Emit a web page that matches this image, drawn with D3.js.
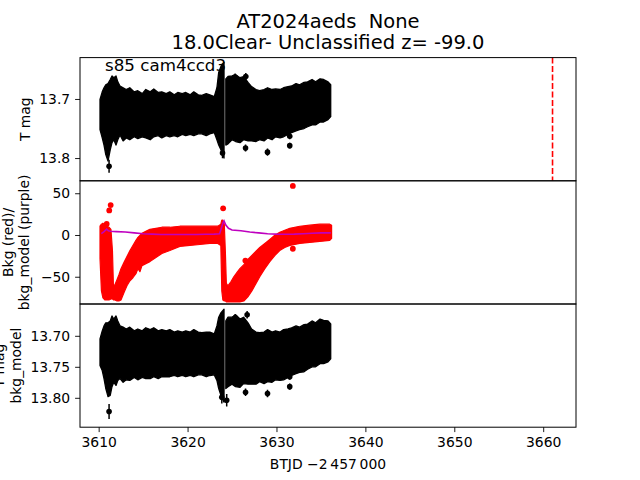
<!DOCTYPE html>
<html><head><meta charset="utf-8">
<script src="https://cdn.jsdelivr.net/npm/d3@7"></script>
<style>
body{margin:0;background:#fff}
svg{display:block}
text{font-family:"DejaVu Sans",sans-serif;fill:#000}
</style>
</head><body>
<svg id="c" width="640" height="480"></svg>
<script>
// ---------- data ----------
const xTicks = [3610, 3620, 3630, 3640, 3650, 3660];
const magTicks = [13.7, 13.8];
const bkgTicks = [50, 0, -50];
const diffTicks = [13.70, 13.75, 13.80];
const peakTime = 3661.05;

// light-curve band (T mag): time, upper envelope (bright), lower envelope (faint); null = data gap
const magTime = [3610.15,3610.4,3610.6,3610.8,3611.05,3611.3,3611.5,3611.7,3611.95,3612.15,3612.4,3612.75,3613.1,3613.5,3614,3614.4,3614.9,3615.3,3615.8,3616.2,3616.7,3617.1,3617.6,3618,3618.5,3618.9,3619.4,3619.8,3620.3,3620.7,3621.2,3621.6,3622.1,3622.5,3623,3623.3,3623.5,3623.75,3624.1,
  3624.2,
  3624.3,3624.55,3625,3625.4,3625.9,3626.3,3626.8,3627.2,3627.7,3628.1,3628.6,3629,3629.5,3629.9,3630.4,3630.8,3631.3,3631.7,3632.2,3632.6,3633.1,3633.5,3634,3634.4,3634.9,3635.3,3635.8,3636.1];
const magTop = [13.701,13.688,13.681,13.676,13.674,13.667,13.661,13.664,13.661,13.671,13.678,13.681,13.684,13.681,13.688,13.686,13.691,13.684,13.688,13.683,13.689,13.688,13.691,13.688,13.693,13.689,13.691,13.689,13.693,13.688,13.693,13.694,13.691,13.693,13.696,13.681,13.655,13.645,13.638,
  null,
  13.666,13.662,13.661,13.659,13.664,13.662,13.672,13.679,13.684,13.686,13.684,13.681,13.684,13.683,13.684,13.681,13.679,13.678,13.674,13.676,13.672,13.671,13.667,13.671,13.666,13.667,13.671,13.676];
const magBottom = [13.752,13.766,13.778,13.794,13.805,13.786,13.774,13.769,13.778,13.769,13.761,13.771,13.766,13.769,13.764,13.767,13.764,13.766,13.769,13.764,13.762,13.766,13.762,13.764,13.762,13.764,13.760,13.762,13.760,13.762,13.759,13.759,13.762,13.759,13.757,13.769,13.778,13.786,13.800,
  null,
  13.778,13.776,13.769,13.772,13.774,13.769,13.771,13.771,13.772,13.769,13.771,13.766,13.769,13.764,13.766,13.764,13.760,13.757,13.754,13.752,13.750,13.747,13.744,13.744,13.739,13.739,13.735,13.730];
// isolated points with error bars (T mag)
const magOutTime = [3611.17,3623.93,3626.52,3628.99,3631.49,3631.49,3625.35,3626.55];
const magOutVal  = [13.814,13.7915,13.783,13.790,13.763,13.779,13.663,13.662];
const magOutErr  = [0.011,0.009,0.006,0.006,0.005,0.005,0.006,0.006];

// T mag - bkg_model band (same times)
const diffTop = [13.705,13.692,13.684,13.679,13.679,13.676,13.668,13.673,13.668,13.676,13.684,13.686,13.689,13.686,13.692,13.689,13.692,13.687,13.690,13.687,13.692,13.690,13.692,13.690,13.694,13.692,13.694,13.692,13.694,13.690,13.694,13.695,13.694,13.694,13.697,13.684,13.670,13.663,13.657,
  null,
  13.676,13.670,13.670,13.666,13.673,13.670,13.679,13.689,13.694,13.695,13.694,13.690,13.694,13.692,13.694,13.690,13.689,13.687,13.684,13.686,13.682,13.681,13.676,13.679,13.673,13.675,13.676,13.681];
const diffBottom = [13.748,13.756,13.769,13.785,13.798,13.796,13.782,13.775,13.780,13.772,13.769,13.775,13.771,13.772,13.767,13.771,13.767,13.769,13.769,13.766,13.769,13.766,13.766,13.766,13.764,13.766,13.764,13.766,13.764,13.766,13.763,13.763,13.766,13.764,13.763,13.772,13.785,13.796,13.807,
  null,
  13.785,13.782,13.778,13.782,13.783,13.777,13.778,13.778,13.778,13.774,13.777,13.774,13.775,13.771,13.772,13.771,13.767,13.764,13.761,13.759,13.758,13.754,13.750,13.750,13.745,13.745,13.742,13.737];
const diffOutTime = [3611.17,3623.85,3624.4,3625.35,3626.7,3626.52,3628.99,3631.49,3631.49];
const diffOutVal  = [13.822,13.799,13.804,13.671,13.666,13.791,13.793,13.766,13.782];
const diffOutErr  = [0.012,0.010,0.010,0.006,0.006,0.006,0.006,0.005,0.005];

// background (red) envelope
const bkgTime = [3610.15,3610.31,3610.48,3610.71,3610.93,3611.16,3611.38,3611.55,3611.66,3611.83,3612.06,3612.28,3612.51,3612.84,3613.18,3613.52,3613.85,3614.19,3614.42,3614.64,3614.87,3615.31,3615.76,3616.44,3617.11,3618.01,3619.13,3620.26,3621.38,3622.51,3623.4,3623.74,3623.85,3623.97,3624.13,3624.25,3624.36,3624.53,3624.87,3625.2,3625.54,3625.88,3626.33,3626.78,3627.23,3627.67,3628.12,3628.69,3629.25,3629.81,3630.37,3630.93,3631.5,3632.62,3633.74,3634.87,3635.99,3636.2];
const bkgTop = [10.5,12.9,14.1,11.7,10.5,9.3,6.8,-18.6,-60.9,-59.7,-53.6,-47.6,-40.3,-33.1,-25.8,-18.6,-12.5,-6.5,-2.8,-0.4,2.0,4.4,6.8,8.0,9.3,9.3,10.5,10.5,10.5,10.5,10.5,12.9,17.7,17.7,12.9,-20,-58,-61,-56,-50,-45.2,-40.3,-35.5,-29.4,-24.6,-19.8,-15.0,-10.1,-5.3,-0.4,3.2,5.6,8.0,10.5,11.7,12.9,12.9,11.7];
const bkgBottom = [-28.2,-66.9,-75.4,-77.8,-77.8,-77.8,-76.6,-76.6,-77.8,-77.8,-79,-79,-77.8,-69.3,-60.8,-54.8,-51.2,-46.4,-40.3,-44,-36.7,-34.3,-31.9,-27.0,-22.2,-18.6,-13.7,-12.5,-11.4,-10.1,-10.1,-12.5,-66.9,-77.8,-79,-79,-80.2,-80.2,-80.2,-80.2,-80.2,-80.2,-79,-74.2,-66.9,-58.5,-50,-40.3,-31.9,-24.6,-18.6,-15.0,-12.5,-10.1,-8.9,-7.7,-6.5,-4.1];
const bkgOutTime = [3610.9,3611.19,3611.35,3624.0,3631.84,3626.5,3631.84];
const bkgOutVal  = [13.3,29.4,35.8,31.9,58.8,-30.7,-16.5];

// background model (purple)
const bkgModelTime = [3610.3,3610.6,3610.9,3611.1,3611.3,3612,3613,3614,3615,3616,3617,3618,3619,3620,3621,3622,3623,3623.6,3623.8,3624.0,3624.1,3624.3,3624.6,3625,3626,3627,3628,3629,3630,3631,3632,3633,3634,3635,3636.1];
const bkgModel = [1.5,4,7,5,4.5,4,3.5,2.5,1.5,1,0.5,0.5,0.5,0.5,0.5,0.8,1,1.5,8,15,17,12,8,6,5,3.5,2.5,1.5,1,0.8,1,1.5,2,2.5,2.5];

// ---------- layout ----------
const L = 80, R = 576, T0 = 57.6, PH = 123.2;
const FS = 13.9;
const svg = d3.select('#c');

const x = d3.scaleLinear().domain([3607.9, 3663.69]).range([L, R]);
const y1 = d3.scaleLinear().domain([13.630, 13.8385]).range([T0, T0 + PH]);
const y2 = d3.scaleLinear().domain([64.9, -82.65]).range([T0 + PH, T0 + 2 * PH]);
const y3 = d3.scaleLinear().domain([13.6487, 13.8474]).range([T0 + 2 * PH, T0 + 3 * PH]);

const defs = svg.append('defs');
[0, 1, 2].forEach(i => {
  defs.append('clipPath').attr('id', 'clip' + i).append('rect')
    .attr('x', L).attr('y', T0 + i * PH).attr('width', R - L).attr('height', PH);
});

function band(g, y, top, bottom, color) {
  const rows = magTime.map((t, i) => ({t, hi: top[i], lo: bottom[i]}));
  const area = d3.area().defined(d => d.hi != null)
    .x(d => x(d.t)).y0(d => y(d.lo)).y1(d => y(d.hi));
  g.append('path').attr('d', area(rows)).attr('fill', color)
    .attr('stroke', color).attr('stroke-width', 1.3).attr('stroke-linejoin', 'round');
}
function errPoints(g, y, ts, vs, es, color) {
  const rows = ts.map((t, i) => ({t, v: vs[i], e: es[i]}));
  g.selectAll(null).data(rows).join('line')
    .attr('x1', d => x(d.t)).attr('x2', d => x(d.t))
    .attr('y1', d => y(d.v - d.e)).attr('y2', d => y(d.v + d.e))
    .attr('stroke', color).attr('stroke-width', 1.5);
  g.selectAll(null).data(rows).join('circle')
    .attr('cx', d => x(d.t)).attr('cy', d => y(d.v)).attr('r', 2.8).attr('fill', color);
}

// panel 1
const g1 = svg.append('g').attr('clip-path', 'url(#clip0)');
band(g1, y1, magTop, magBottom, '#000');
errPoints(g1, y1, magOutTime, magOutVal, magOutErr, '#000');
g1.append('line').attr('x1', x(peakTime)).attr('x2', x(peakTime))
  .attr('y1', T0).attr('y2', T0 + PH)
  .attr('stroke', '#ff0000').attr('stroke-width', 1.6).attr('stroke-dasharray', '5.9,2.6');

// panel 2
const g2 = svg.append('g').attr('clip-path', 'url(#clip1)');
const bkgRows = bkgTime.map((t, i) => ({t, hi: bkgTop[i], lo: bkgBottom[i]}));
g2.append('path')
  .attr('d', d3.area().x(d => x(d.t)).y0(d => y2(d.lo)).y1(d => y2(d.hi))(bkgRows))
  .attr('fill', '#ff0000').attr('stroke', '#ff0000').attr('stroke-width', 1.2).attr('stroke-linejoin', 'round');
g2.selectAll(null).data(bkgOutTime.map((t, i) => ({t, v: bkgOutVal[i]}))).join('circle')
  .attr('cx', d => x(d.t)).attr('cy', d => y2(d.v)).attr('r', 2.9).attr('fill', '#ff0000');
g2.append('path')
  .attr('d', d3.line().x((d, i) => x(bkgModelTime[i])).y(d => y2(d))(bkgModel))
  .attr('fill', 'none').attr('stroke', '#bf00bf').attr('stroke-width', 1.6);

// panel 3
const g3 = svg.append('g').attr('clip-path', 'url(#clip2)');
band(g3, y3, diffTop, diffBottom, '#000');
errPoints(g3, y3, diffOutTime, diffOutVal, diffOutErr, '#000');

// frames
[0, 1, 2].forEach(i => {
  svg.append('rect').attr('x', L).attr('y', T0 + i * PH).attr('width', R - L).attr('height', PH)
    .attr('fill', 'none').attr('stroke', '#000').attr('stroke-width', 1);
});

// axes
function styleAxis(g) {
  g.select('.domain').remove();
  g.selectAll('.tick line').attr('stroke', '#000').attr('stroke-width', 0.9);
  g.selectAll('.tick text').attr('font-size', FS).attr('font-family', '"DejaVu Sans",sans-serif').attr('fill', '#000');
}
const ax1 = svg.append('g').attr('transform', `translate(${L},0)`)
  .call(d3.axisLeft(y1).tickValues(magTicks).tickFormat(d3.format('.1f')).tickSize(4.9).tickPadding(4.9));
styleAxis(ax1);
const ax2 = svg.append('g').attr('transform', `translate(${L},0)`)
  .call(d3.axisLeft(y2).tickValues(bkgTicks).tickFormat(d3.format('d')).tickSize(4.9).tickPadding(4.9));
styleAxis(ax2);
const ax3 = svg.append('g').attr('transform', `translate(${L},0)`)
  .call(d3.axisLeft(y3).tickValues(diffTicks).tickFormat(d3.format('.2f')).tickSize(4.9).tickPadding(4.9));
styleAxis(ax3);
const axx = svg.append('g').attr('transform', `translate(0,${T0 + 3 * PH})`)
  .call(d3.axisBottom(x).tickValues(xTicks).tickFormat(d3.format('d')).tickSize(4.9).tickPadding(4.9));
styleAxis(axx);

// texts
function txt(str, tx, ty, opts = {}) {
  const t = svg.append('text').attr('x', tx).attr('y', ty)
    .attr('font-size', opts.fs || FS)
    .attr('text-anchor', opts.anchor || 'middle')
    .style('white-space', 'pre').text(str);
  if (opts.rot) t.attr('transform', `rotate(-90,${tx},${ty})`);
  return t;
}
const cx = (L + R) / 2;
txt('AT2024aeds  None', cx, 27.5, {fs: 19.5});
txt('18.0Clear- Unclassified z= -99.0', cx, 49, {fs: 19.5});
txt('s85 cam4ccd3', 105, 70.5, {anchor: 'start', fs: 16.7});
txt('T mag', 30, T0 + PH / 2, {rot: true});
txt('Bkg (red)/', 13, T0 + 1.5 * PH, {rot: true});
txt('bkg_model (purple)', 29.5, T0 + 1.5 * PH, {rot: true});
txt('T mag', 4.5, T0 + 2.5 * PH, {rot: true});
txt('bkg_model', 21, T0 + 2.5 * PH, {rot: true});
txt('BTJD \u22122\u2009457\u2009000', cx, 468.5);
</script>
</body></html>
